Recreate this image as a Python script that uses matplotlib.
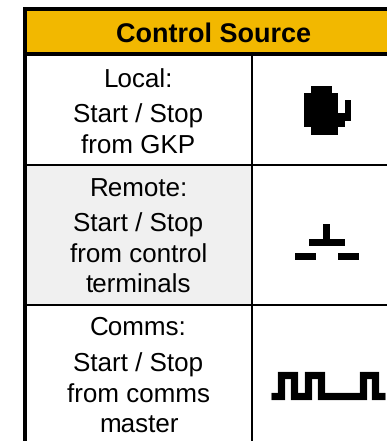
import matplotlib
matplotlib.use("Agg")
import matplotlib.pyplot as plt
from matplotlib.patches import Rectangle, Polygon

plt.rcParams["text.hinting"] = "no_hinting"
plt.rcParams["text.hinting_factor"] = 1

W, H = 387, 441
title = "Control Source"
row_lines = [
    ["Local:", "Start / Stop", "from GKP"],
    ["Remote:", "Start / Stop", "from control", "terminals"],
    ["Comms:", "Start / Stop", "from comms", "master"],
]
row_baselines = [
    [87.3, 123, 154],
    [196.7, 231.7, 262.7, 293],
    [335, 371.7, 402.7, 432.7],
]
header_color = "#F2B800"
shade_color = "#F0F0F0"

mug_x = [311, 331.7, 331.7, 338.3, 338.3, 345, 345, 351.3, 351.3, 345, 345, 338.3, 338.3, 311, 311, 304, 304, 311]
mug_y = [86, 86, 92.7, 92.7, 113.3, 113.3, 100, 100, 120.7, 120.7, 127.3, 127.3, 134.7, 134.7, 127.3, 127.3, 92.7, 92.7]
switch_rects = [
    (323.3, 224.3, 7, 15),
    (309.3, 239, 35.7, 6.7),
    (294.7, 252.7, 21.6, 7.3),
    (337.7, 252.7, 21.3, 7.3),
]
pulse_x = [271, 281, 281, 293.8, 293.8, 308, 308, 321.4, 321.4, 362.6, 362.6, 375, 375, 385]
pulse_y = [396.1, 396.1, 374.9, 374.9, 396.1, 396.1, 374.9, 374.9, 396.1, 396.1, 374.9, 374.9, 396.1, 396.1]

fig = plt.figure(figsize=(W / 100, H / 100), dpi=100)
ax = fig.add_axes([0, 0, 1, 1])
ax.set_xlim(0, W)
ax.set_ylim(H, 0)
ax.axis("off")


def box(x0, y0, x1, y1, color, z=1):
    ax.add_patch(Rectangle((x0, y0), x1 - x0, y1 - y0, fc=color, ec="none", lw=0, zorder=z))


box(27, 11, W, 52, header_color)
box(27, 166, 251, 304, shade_color)

# grid lines
box(23.3, 7, 27.3, H, "black", 3)
box(23.3, 7, W, 11, "black", 3)
box(23.3, 51.7, W, 55.7, "black", 3)
box(250.8, 55, 253.3, H, "black", 3)
box(23.3, 164, W, 166, "black", 3)
box(23.3, 304, W, 306, "black", 3)

font = ["Liberation Sans", "DejaVu Sans"]
ax.text(213.8, 41.7, title, family=font, fontsize=19.1, fontweight="bold",
        ha="center", va="baseline", color="black", zorder=4)
for lines, bases in zip(row_lines, row_baselines):
    for s, b in zip(lines, bases):
        ax.text(138.5, b, s, family=font, fontsize=19, ha="center", va="baseline",
                color="black", zorder=4)

ax.add_patch(Polygon(list(zip(mug_x, mug_y)), closed=True, fc="black", ec="none", zorder=4))
for x, y, w, h in switch_rects:
    ax.add_patch(Rectangle((x, y), w, h, fc="black", ec="none", zorder=4))
ax.plot(pulse_x, pulse_y, color="black", lw=7.2 * 72 / 100, solid_joinstyle="miter",
        solid_capstyle="butt", zorder=4)

fig.savefig("out.png", dpi=100)
